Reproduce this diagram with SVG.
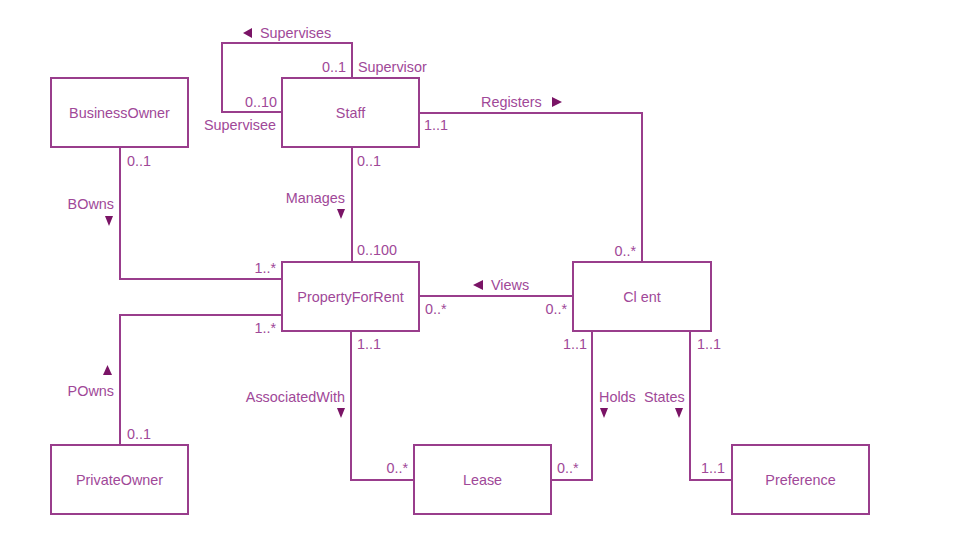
<svg xmlns="http://www.w3.org/2000/svg" width="954" height="553" viewBox="0 0 954 553">
<style>
.box{fill:#fff;stroke:#993d8c;stroke-width:2}
.ln{fill:none;stroke:#993d8c;stroke-width:2}
text{font-family:"Liberation Sans",Arial,sans-serif;font-size:14.4px;fill:#a04898}
.c{text-anchor:middle}
.r{text-anchor:end}
.tri{fill:#7a1466}
</style>
<rect width="954" height="553" fill="#fff"/>
<g id="connectors">
<path class="ln" d="M352,78 V43 H222 V112 H282"/>
<path class="ln" d="M419,113 H642 V262"/>
<path class="ln" d="M419,296 H573"/>
<path class="ln" d="M120,147 V279 H282"/>
<path class="ln" d="M120,445 V315 H282"/>
<path class="ln" d="M352,147 V262"/>
<path class="ln" d="M351,331 V480 H414"/>
<path class="ln" d="M592,331 V480 H551"/>
<path class="ln" d="M690,331 V480 H732"/>
<polygon class="tri" points="252,28 252,38 243,33"/>
<text x="260" y="38">Supervises</text>
<text class="r" x="346" y="72">0..1</text>
<text x="358" y="72">Supervisor</text>
<text class="r" x="277" y="107">0..10</text>
<text class="r" x="276" y="130">Supervisee</text>
<text x="481" y="107">Registers</text>
<polygon class="tri" points="552,97 552,107 562,102"/>
<text x="424" y="130">1..1</text>
<text class="r" x="636" y="256">0..*</text>
<polygon class="tri" points="483,280 483,290 473,285"/>
<text x="491" y="290">Views</text>
<text x="425" y="314">0..*</text>
<text class="r" x="567" y="314">0..*</text>
<text x="127" y="166">0..1</text>
<text class="r" x="114" y="209">BOwns</text>
<polygon class="tri" points="105,216 113,216 109,226"/>
<text class="r" x="345" y="203">Manages</text>
<polygon class="tri" points="337,209 345,209 341,219"/>
<text x="357" y="166">0..1</text>
<text x="357" y="255">0..100</text>
<text class="r" x="276" y="273">1..*</text>
<text class="r" x="276" y="333">1..*</text>
<polygon class="tri" points="103,375 112,375 107.5,365"/>
<text class="r" x="114" y="396">POwns</text>
<text x="127" y="439">0..1</text>
<text x="357" y="349">1..1</text>
<text class="r" x="345" y="402">AssociatedWith</text>
<polygon class="tri" points="337,408 345,408 341,418"/>
<text class="r" x="408" y="473">0..*</text>
<text x="557" y="473">0..*</text>
<text class="r" x="587" y="349">1..1</text>
<text x="697" y="349">1..1</text>
<text x="599" y="402">Holds</text>
<polygon class="tri" points="600,408 608,408 604,418"/>
<text x="644" y="402">States</text>
<polygon class="tri" points="675,408 683,408 679,418"/>
<text class="r" x="725" y="473">1..1</text>
</g>
<g id="BusinessOwner"><rect class="box" x="51" y="78" width="137" height="69"/><text class="c" x="119.5" y="118">BusinessOwner</text></g>
<g id="Staff"><rect class="box" x="282" y="78" width="137" height="69"/><text class="c" x="350.5" y="118">Staff</text></g>
<g id="PropertyForRent"><rect class="box" x="282" y="262" width="137" height="69"/><text class="c" x="350.5" y="302">PropertyForRent</text></g>
<g id="Client"><rect class="box" x="573" y="262" width="138" height="69"/><text class="c" x="642" y="302">Cl ent</text></g>
<g id="PrivateOwner"><rect class="box" x="51" y="445" width="137" height="69"/><text class="c" x="119.5" y="485">PrivateOwner</text></g>
<g id="Lease"><rect class="box" x="414" y="445" width="137" height="69"/><text class="c" x="482.5" y="485">Lease</text></g>
<g id="Preference"><rect class="box" x="732" y="445" width="137" height="69"/><text class="c" x="800.5" y="485">Preference</text></g>
</svg>
